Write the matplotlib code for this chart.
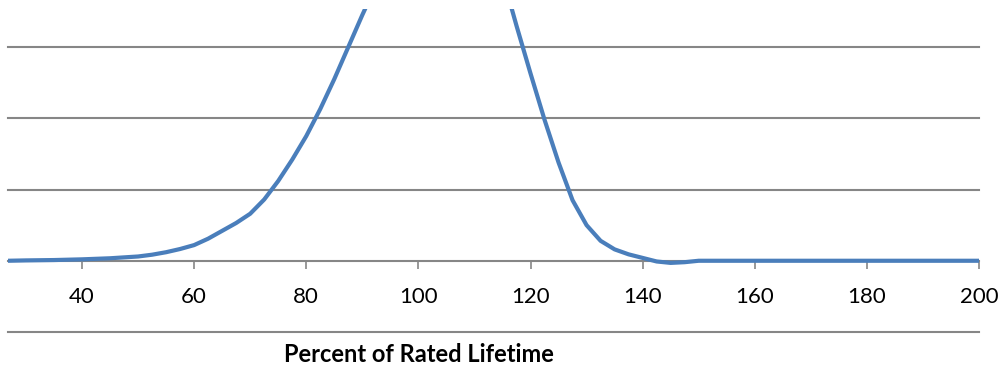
import matplotlib
matplotlib.use('Agg')
import matplotlib.pyplot as plt

# percent of rated lifetime vs. relative failure density (gridline step = 1)
lifetime_pct = [26.8, 30, 35, 40, 45, 50, 52.5, 55, 57.5, 60, 62.5, 65, 67.5,
                70, 72.5, 75, 77.5, 80, 82.5, 85, 87.5, 90, 95, 100, 105, 110,
                115, 117.5, 120, 122.5, 125, 127.5, 130, 132.5, 135, 137.5,
                140, 142.5, 145, 147.5, 150, 160, 170, 180, 190, 200]
density = [0.0, 0.005, 0.01, 0.02, 0.035, 0.06, 0.085, 0.12, 0.165, 0.22,
           0.31, 0.42, 0.53, 0.66, 0.86, 1.12, 1.42, 1.75, 2.13, 2.55, 3.0,
           3.45, 4.3, 4.9, 5.1, 4.9, 4.0, 3.3, 2.63, 1.98, 1.38, 0.85, 0.5,
           0.28, 0.16, 0.09, 0.04, -0.01, -0.03, -0.02, 0.0, 0.0, 0.0, 0.0,
           0.0, 0.0]
x_ticks = [40, 60, 80, 100, 120, 140, 160, 180, 200]
grid_levels = [-1, 1, 2, 3]

LINE = '#4a7ebb'
GRID = '#868686'

W, H = 1002, 368
fig = plt.figure(figsize=(W / 100, H / 100), dpi=100)
left, right, top, bottom = 8, 979, 9, 332
ax = fig.add_axes([left / W, 1 - bottom / H, (right - left) / W, (bottom - top) / H])

plt.rcParams['font.family'] = ['Lato', 'DejaVu Sans']

for lvl in grid_levels:
    ax.axhline(lvl, color=GRID, lw=1.5, clip_on=False, zorder=1)

ax.plot(lifetime_pct, density, color=LINE, lw=3.0, solid_capstyle='butt',
        solid_joinstyle='round', zorder=3)

ax.set_xlim(26.8, 200)
ax.set_ylim(-1, 3.534)

for s in ['top', 'right', 'left']:
    ax.spines[s].set_visible(False)
ax.spines['bottom'].set_position(('data', 0))
ax.spines['bottom'].set_color(GRID)
ax.spines['bottom'].set_linewidth(1.5)
ax.spines['bottom'].set_zorder(2)

ax.set_yticks([])
ax.set_xticks(x_ticks)
ax.set_xticklabels([str(t) for t in x_ticks], family=['Lato', 'DejaVu Sans'])
ax.tick_params(axis='x', direction='out', length=6, width=1.2, color=GRID,
               labelsize=16, pad=13, labelcolor='black')
ax.patch.set_visible(False)

fig.text(419 / W, 1 - 354 / H, 'Percent of Rated Lifetime', ha='center', va='center',
         fontsize=17, fontweight='bold', family=['Lato', 'DejaVu Sans'])

fig.savefig('out.png', dpi=100)
